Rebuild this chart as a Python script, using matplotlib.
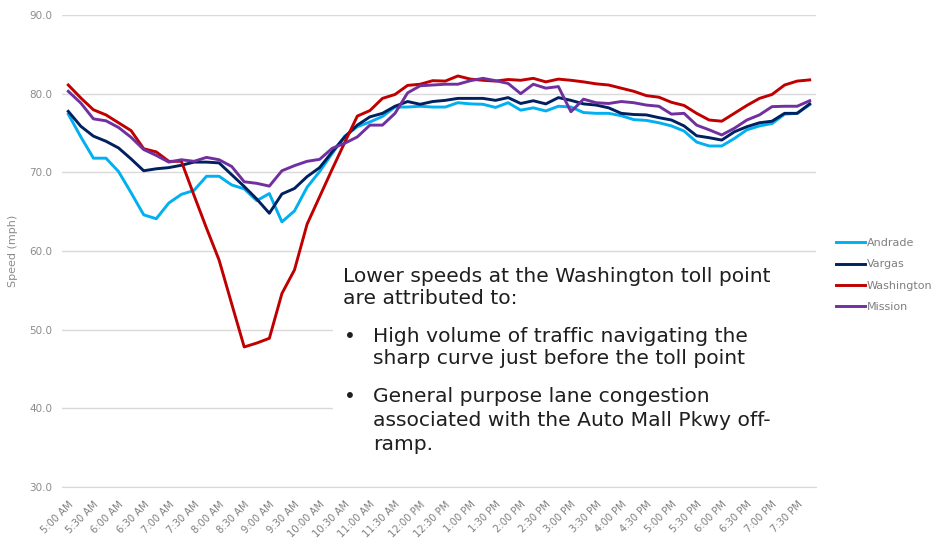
import matplotlib
matplotlib.use("Agg")
import matplotlib.pyplot as plt
from matplotlib.patches import Rectangle

# ---------------- data ----------------
times = []
for h in range(5, 20):
    for m in (0, 15, 30, 45):
        hh = h if h <= 12 else h - 12
        ampm = "AM" if h < 12 else "PM"
        times.append(f"{hh}:{m:02d} {ampm}")
times = times[:60]  # 5:00 AM .. 7:45 PM

andrade = [77.4, 74.5, 71.8, 71.8, 70.1, 67.4, 64.6, 64.1, 66.1, 67.2,
           67.7, 69.5, 69.5, 68.4, 67.9, 66.4, 67.3, 63.7, 65.1, 68.1,
           70.1, 72.4, 74.6, 75.8, 76.4, 77.1, 78.3, 78.3, 78.4, 78.3,
           78.3, 78.85, 78.7, 78.65, 78.25, 78.85, 77.9, 78.2, 77.8, 78.4,
           78.3, 77.6, 77.5, 77.5, 77.2, 76.7, 76.6, 76.3, 75.9, 75.25,
           73.85, 73.35, 73.35, 74.3, 75.4, 75.9, 76.2, 77.4, 77.5, 78.6]
vargas = [77.75, 75.85, 74.6, 73.95, 73.1, 71.7, 70.2, 70.45, 70.6, 70.9,
          71.3, 71.3, 71.2, 69.7, 68.2, 66.6, 64.8, 67.25, 67.95, 69.45,
          70.6, 72.6, 74.5, 76.0, 77.05, 77.5, 78.4, 79.0, 78.65, 79.0,
          79.15, 79.4, 79.4, 79.4, 79.15, 79.5, 78.75, 79.1, 78.7, 79.5,
          79.15, 78.7, 78.55, 78.2, 77.5, 77.35, 77.3, 76.95, 76.65, 75.9,
          74.65, 74.4, 74.1, 75.15, 75.8, 76.3, 76.5, 77.5, 77.5, 78.7]
washington = [81.1, 79.45, 77.95, 77.3, 76.3, 75.3, 73.0, 72.6, 71.4, 71.4,
              67.1, 62.9, 58.85, 53.3, 47.8, 48.3, 48.9, 54.6, 57.6, 63.4,
              66.9, 70.4, 73.8, 77.15, 77.85, 79.4, 79.9, 81.05, 81.2, 81.65,
              81.6, 82.25, 81.85, 81.7, 81.6, 81.8, 81.7, 81.95, 81.5, 81.85,
              81.7, 81.5, 81.25, 81.1, 80.7, 80.3, 79.75, 79.55, 78.9, 78.5,
              77.5, 76.65, 76.5, 77.5, 78.5, 79.4, 79.9, 81.1, 81.6, 81.75]
mission = [80.3, 78.8, 76.8, 76.55, 75.7, 74.45, 72.9, 72.15, 71.3, 71.6,
           71.4, 71.9, 71.6, 70.75, 68.8, 68.6, 68.25, 70.2, 70.85, 71.4,
           71.65, 73.05, 73.7, 74.5, 76.0, 76.0, 77.5, 80.1, 81.0, 81.1,
           81.2, 81.2, 81.65, 81.95, 81.65, 81.3, 80.0, 81.2, 80.7, 80.9,
           77.7, 79.3, 78.85, 78.75, 79.0, 78.85, 78.55, 78.4, 77.4, 77.5,
           76.0, 75.4, 74.75, 75.6, 76.65, 77.3, 78.35, 78.4, 78.4, 79.1]

series_names = ["Andrade", "Vargas", "Washington", "Mission"]
series_colors = ["#00B0F0", "#002060", "#C00000", "#7030A0"]
y_ticks = [30.0, 40.0, 50.0, 60.0, 70.0, 80.0, 90.0]

intro_lines = ["Lower speeds at the Washington toll point", "are attributed to:"]
bullet1_lines = ["High volume of traffic navigating the",
                 "sharp curve just before the toll point"]
bullet2_lines = ["General purpose lane congestion",
                 "associated with the Auto Mall Pkwy off-",
                 "ramp."]

# ---------------- figure ----------------
W, H = 937, 540
fig = plt.figure(figsize=(W / 100, H / 100), dpi=100)
fx = lambda x: x / W
fy = lambda y: 1 - y / H

ax = fig.add_axes([fx(62), fy(487), fx(816) - fx(62), fy(15) - fy(487)])

x = list(range(len(times)))
for name, vals, col in zip(series_names, [andrade, vargas, washington, mission], series_colors):
    ax.plot(x, vals, color=col, lw=2.1, label=name, zorder=3, solid_joinstyle="round")

ax.set_xlim(-0.5, len(times) - 0.5)
ax.set_ylim(30, 90)
ax.set_yticks(y_ticks)
ax.set_yticklabels([f"{v:.1f}" for v in y_ticks], fontsize=7.5, color="#8C8C8C")
ax.set_xticks(x[::2])
ax.set_xticklabels(times[::2], rotation=45, ha="right", rotation_mode="anchor",
                   fontsize=7.2, color="#7F7F7F")
ax.tick_params(axis="y", length=0, pad=7)
ax.tick_params(axis="x", length=0, pad=9)
ax.set_axisbelow(True)
ax.grid(axis="y", color="#D9D9D9", lw=1.0, zorder=0)
for s in ["top", "right", "left"]:
    ax.spines[s].set_visible(False)
ax.spines["bottom"].set_color("#D9D9D9")
ax.set_ylabel("Speed (mph)", fontsize=8, color="#8C8C8C", labelpad=8)

# white box behind annotation text (covers gridlines)
ax.add_patch(Rectangle((fx(333), fy(478)), fx(830) - fx(333), fy(257) - fy(478),
                       transform=fig.transFigure, facecolor="white", edgecolor="none",
                       zorder=1, clip_on=False))

tc = "#1F1F1F"
fs = 14.6
for txt, yy in zip(intro_lines, [276, 298]):
    fig.text(fx(343), fy(yy), txt, fontsize=fs, color=tc, va="center", ha="left")
for lines, ys in [(bullet1_lines, [336, 358]), (bullet2_lines, [397, 420, 444])]:
    fig.text(fx(344), fy(ys[0]), "\u2022", fontsize=fs, color=tc, va="center", ha="left")
    for txt, yy in zip(lines, ys):
        fig.text(fx(373), fy(yy), txt, fontsize=fs, color=tc, va="center", ha="left")

handles, labels = ax.get_legend_handles_labels()
fig.legend(handles, labels, loc="center left", bbox_to_anchor=(fx(836), fy(275)),
           frameon=False, fontsize=8, labelcolor="#7F7F7F", handlelength=2.6,
           handletextpad=0.15, labelspacing=1.0, borderpad=0, borderaxespad=0)

fig.savefig("out.png", dpi=100)
